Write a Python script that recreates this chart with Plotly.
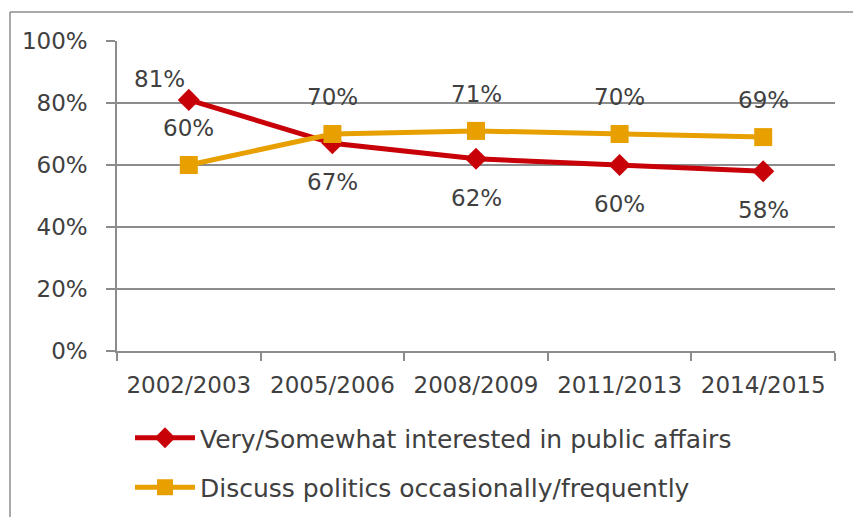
import plotly.graph_objects as go

# Survey waves and shares (%)
periods = ["2002/2003", "2005/2006", "2008/2009", "2011/2013", "2014/2015"]
interested = [81, 67, 62, 60, 58]
discuss = [60, 70, 71, 70, 69]
y_ticks = [0, 20, 40, 60, 80, 100]

name_interested = "Very/Somewhat interested in public affairs"
name_discuss = "Discuss politics occasionally/frequently"

RED = "#C80008"
ORANGE = "#E8A000"
GRID = "#8C8C8C"
TEXT = "#404040"
FONT = "DejaVu Sans"
FS = 23

W, H = 853, 517
L, R, T, B = 117, 18, 41, 166

fig = go.Figure()
fig.add_trace(go.Scatter(
    x=periods, y=interested, name=name_interested, mode="lines+markers",
    line=dict(color=RED, width=5),
    marker=dict(symbol="diamond", size=17, color=RED),
    legendgroup="a",
))
fig.add_trace(go.Scatter(
    x=periods, y=discuss, name=name_discuss, mode="lines+markers",
    line=dict(color=ORANGE, width=5),
    marker=dict(symbol="square", size=18, color=ORANGE),
    legendgroup="b",
))

# value labels: discuss above its points, interested below (first one up-left)
label_font = dict(family=FONT, size=FS, color=TEXT)
annotations = []
for p, v in zip(periods, discuss):
    annotations.append(dict(x=p, y=v, text=f"{v}%", showarrow=False,
                            yshift=37, font=label_font))
for i, (p, v) in enumerate(zip(periods, interested)):
    if i == 0:
        annotations.append(dict(x=p, y=v, text=f"{v}%", showarrow=False,
                                xshift=-29, yshift=21, font=label_font))
    else:
        annotations.append(dict(x=p, y=v, text=f"{v}%", showarrow=False,
                                yshift=-39, font=label_font))

pw = W - L - R
ph = H - T - B


def px_to_paper_x(px):
    return (px - L) / pw


def px_to_paper_y(py):
    return (H - B - py) / ph


# outer frame (left and top edges)
shapes = [
    dict(type="line", xref="paper", yref="paper",
         x0=px_to_paper_x(10), x1=px_to_paper_x(10),
         y0=px_to_paper_y(12), y1=px_to_paper_y(H + 5),
         line=dict(color="#8C8C8C", width=1.5)),
    dict(type="line", xref="paper", yref="paper",
         x0=px_to_paper_x(10), x1=px_to_paper_x(W + 5),
         y0=px_to_paper_y(12), y1=px_to_paper_y(12),
         line=dict(color="#8C8C8C", width=1.5)),
]

fig.update_layout(
    width=W, height=H,
    margin=dict(l=L, r=R, t=T, b=B, pad=0, autoexpand=False),
    paper_bgcolor="white", plot_bgcolor="white",
    font=dict(family=FONT, size=FS, color=TEXT),
    showlegend=True,
    legend=dict(
        x=px_to_paper_x(130), y=px_to_paper_y(415), xanchor="left", yanchor="top",
        orientation="v", tracegroupgap=14,
        font=dict(family=FONT, size=25, color=TEXT),
        bgcolor="rgba(0,0,0,0)", itemwidth=60,
    ),
    annotations=annotations,
    shapes=shapes,
    xaxis=dict(
        type="category", range=[-0.5, len(periods) - 0.5],
        tickson="boundaries", ticks="outside", ticklen=8,
        tickcolor=GRID, tickwidth=1.5, showline=True, linecolor=GRID, linewidth=1.5,
        showgrid=False, tickfont=dict(family=FONT, size=FS, color=TEXT),
        ticklabelstandoff=13, fixedrange=True,
    ),
    yaxis=dict(
        range=[0, 100], tickvals=y_ticks, ticktext=[f"{t}%" for t in y_ticks],
        ticks="outside", ticklen=9, tickcolor=GRID, tickwidth=1.5,
        showline=True, linecolor=GRID, linewidth=1.5,
        showgrid=True, gridcolor=GRID, gridwidth=1.5, zeroline=False,
        tickfont=dict(family=FONT, size=FS, color=TEXT),
        ticklabelstandoff=14, fixedrange=True,
    ),
)

fig.write_html("out.html")
